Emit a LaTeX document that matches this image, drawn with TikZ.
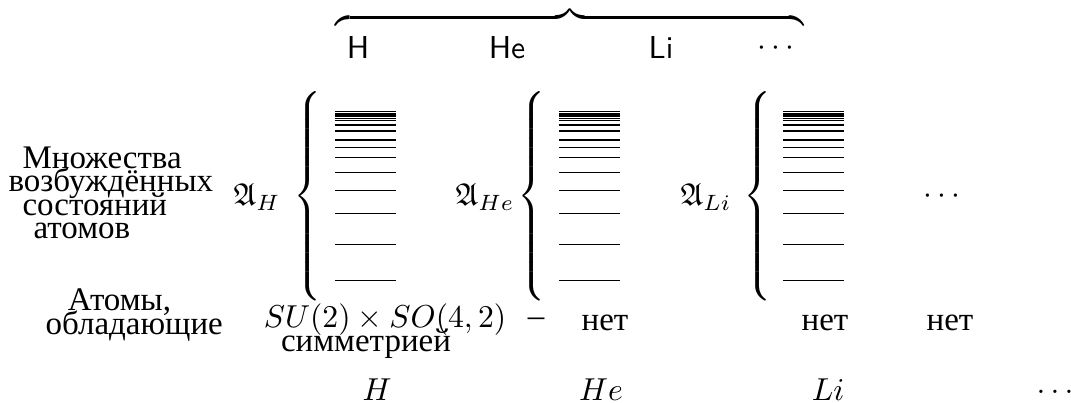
\documentclass[tikz,border=0pt]{standalone}
\usepackage{amssymb}
\usepackage{fontspec}
\newfontfamily\rus[Scale=1.04]{Liberation Serif}
\newcommand\tightrus{\rus\fontsize{10}{7.4}\selectfont\lineskiplimit=-20pt\relax}
\usetikzlibrary{positioning}

\begin{document}
\begin{tikzpicture}[
  x=0.3155pt, y=-0.3155pt,
  sym/.style={inner sep=0pt},
  txt/.style={inner sep=0pt, font=\rus},
  blocktxt/.style={inner sep=0pt, align=left, anchor=west, font=\tightrus},
  bigbrace/.style={inner sep=0pt},
  level/.style={line width=0.45pt}
]
\useasboundingbox (0,0) rectangle (1071,403);

% top brace over the names of the elements
\node[sym, anchor=base] (top) at (570,29) {$\overbrace{\hspace{147.7pt}}$};
\node[sym] (nameH) at (358,48) {\textsf{H}};
\node[sym] (nameHe) at (507,48) {\textsf{He}};
\node[sym] (nameLi) at (661,48) {\textsf{Li}};
\node[sym] (nameDots) at (776,48) {$\cdots$};

% row of excited states
\node[blocktxt] (states) at (8,193) {\hspace*{4.4pt}Множества\\возбуждённых\\\hspace*{4.4pt}состояний\\\hspace*{7.9pt}атомов};
\node[bigbrace] (brH) at (309,196) {$\delimitershortfall=0pt\left\{\vcenter{\hbox{\rule{0pt}{65pt}}}\right.$};
\node[bigbrace] (brHe) at (533,196) {$\delimitershortfall=0pt\left\{\vcenter{\hbox{\rule{0pt}{65pt}}}\right.$};
\node[bigbrace] (brLi) at (759,196) {$\delimitershortfall=0pt\left\{\vcenter{\hbox{\rule{0pt}{65pt}}}\right.$};
\node[sym, anchor=west] (aH) at (233,197) {$\mathfrak{A}_H$};
\node[sym, anchor=west] (aHe) at (455,197) {$\mathfrak{A}_{He}$};
\node[sym, anchor=west] (aLi) at (680,197) {$\mathfrak{A}_{Li}$};
\node[sym] (statesDots) at (942,196) {$\cdots$};

% energy levels
\foreach \bx in {335,559,783}
  \foreach \ly in {111.7,114,116.2,118.4,120.7,125,131,140,147.7,157.7,172.7,190.7,213.7,244.7,280.7}
    \draw[level] (\bx,\ly) -- ++(61,0);

% row of symmetric atoms
\node[blocktxt] (atoms) at (45,315) {\hspace*{7pt}Атомы,\\обладающие};
\node[sym] (group) at (385,320) {$SU(2)\times SO(4,2)$};
\node[txt] (symm) at (366,344) {симметрией};
\node[txt] (dash) at (536,322) {–};
\node[txt] (noHe) at (605,323) {нет};
\node[txt] (noLi) at (825,323) {нет};
\node[txt] (noDots) at (950,323) {нет};

% bottom row
\node[sym] (atH) at (377,390) {$H$};
\node[sym] (atHe) at (601,390) {$He$};
\node[sym] (atLi) at (828,390) {$Li$};
\node[sym] (atDots) at (1055,392) {$\ldots$};
\end{tikzpicture}
\end{document}
